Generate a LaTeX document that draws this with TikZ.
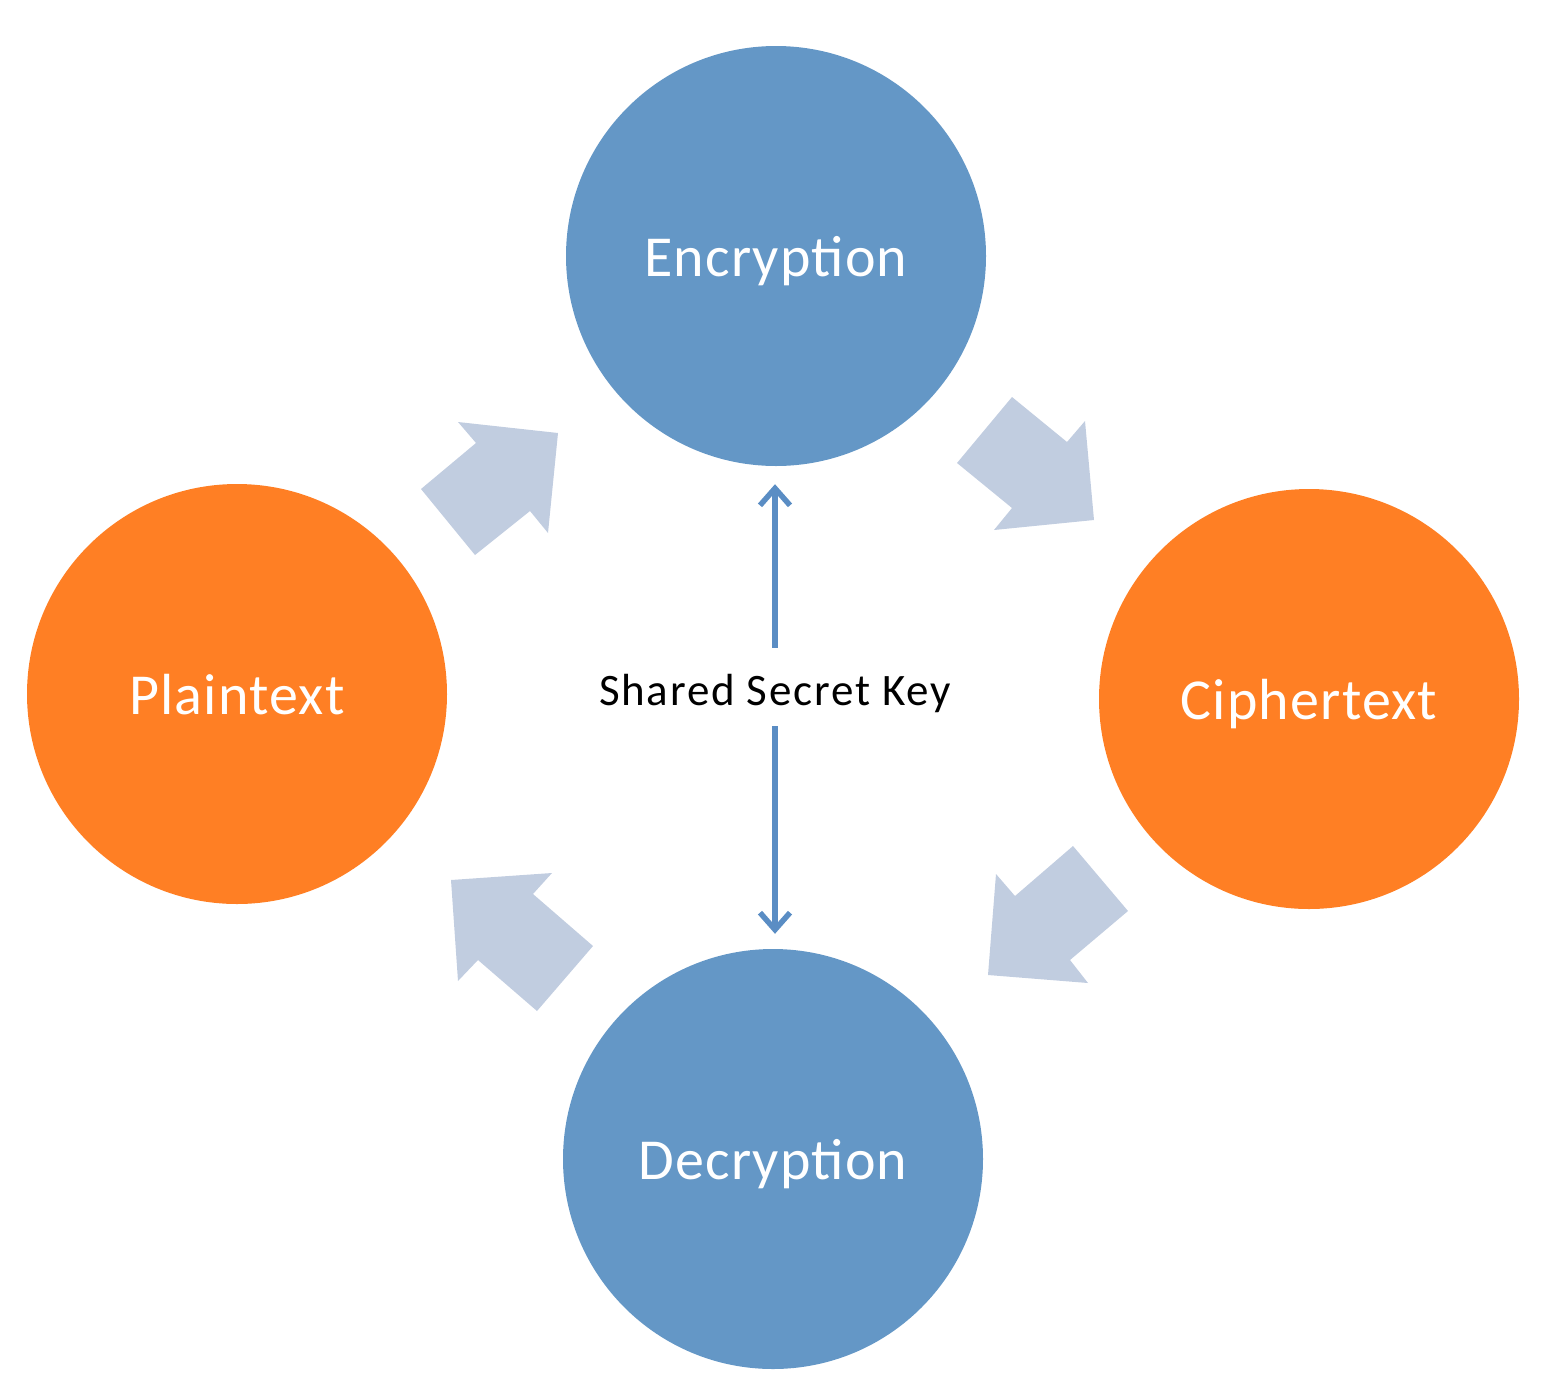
\documentclass[tikz,border=0pt]{standalone}
\usepackage{fontspec}
\setmainfont{Carlito}
\usetikzlibrary{arrows.meta}
\definecolor{cblue}{HTML}{6497C6}
\definecolor{corange}{HTML}{FF7F24}
\definecolor{carrow}{HTML}{C1CDE0}
\definecolor{ckey}{HTML}{5A8DC4}
\tikzset{
  bubble/.style={circle, minimum size=420pt, inner sep=0pt, text=white,
    font=\fontsize{58}{60}\selectfont\addfontfeature{LetterSpace=2},
    text height=40pt, text depth=0pt},
  bluebubble/.style={bubble, fill=cblue},
  orangebubble/.style={bubble, fill=corange},
  blockarrow/.style={fill=carrow, draw=none},
  keyarrow/.style={draw=ckey, line width=5.5pt,
    -{Straight Barb[length=17pt,width=30pt]}},
  keylabel/.style={inner sep=0pt, minimum height=78pt, text height=44pt, text depth=8pt,
    font=\fontsize{45}{47}\selectfont\addfontfeature{LetterSpace=4}}
}
\begin{document}
\begin{tikzpicture}[x=1pt,y=-1pt]
\useasboundingbox (0,0) rectangle (1552,1384);
\node[bluebubble] (enc) at (776,256) {Encryption};
\node[orangebubble] (pt) at (237,694) {Plaintext};
\node[orangebubble] (ct) at (1309,699) {Ciphertext};
\node[bluebubble] (dec) at (773,1159) {Decryption};
\node[keylabel] (key) at (775,687) {Shared Secret Key};
% block arrows
\fill[blockarrow] (458,422) -- (558,433) -- (548,533) -- (530,511) -- (475,555) -- (421,489) -- (476,443) -- cycle;
\fill[blockarrow] (1012,397) -- (1067,442) -- (1085,421) -- (1094,520) -- (994,530) -- (1012,508) -- (957,463) -- cycle;
\fill[blockarrow] (1073,846) -- (1128,911) -- (1070,960) -- (1088,983) -- (988,975) -- (996,874) -- (1015,896) -- cycle;
\fill[blockarrow] (593,946) -- (537,1011) -- (478,960) -- (458,981) -- (451,880) -- (552,873) -- (533,894) -- cycle;
% key arrows
\draw[keyarrow, shorten >=18pt] (key.north) -- (key.north |- enc.south);
\draw[keyarrow, shorten >=15pt] (key.south) -- (key.south |- dec.north);
\end{tikzpicture}
\end{document}
